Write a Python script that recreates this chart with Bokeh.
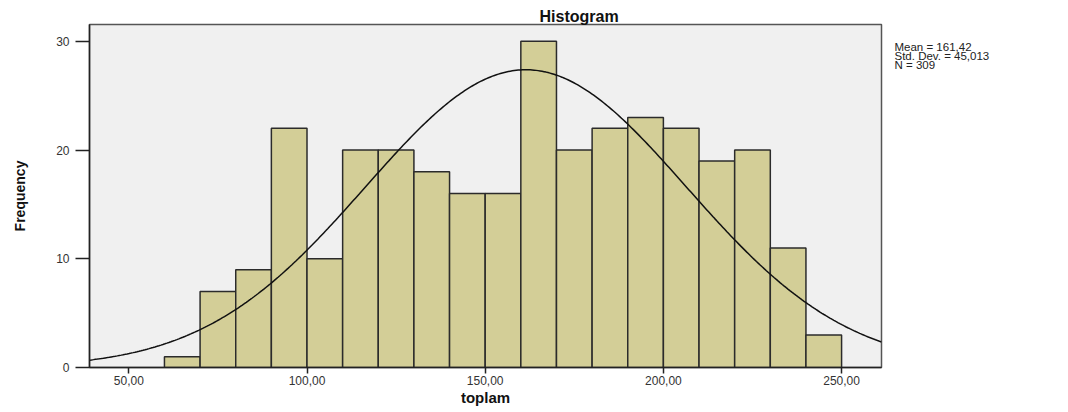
import numpy as np
from bokeh.plotting import figure
from bokeh.layouts import row
from bokeh.models import Range1d, FixedTicker
from bokeh.core.properties import value
from bokeh.embed import file_html
from bokeh.resources import INLINE

# Histogram data (bin edges and frequencies)
bin_edges = [60, 70, 80, 90, 100, 110, 120, 130, 140, 150, 160, 170, 180, 190, 200, 210, 220, 230, 240, 250]
frequencies = [1, 7, 9, 22, 10, 20, 20, 18, 16, 16, 30, 20, 22, 23, 22, 19, 20, 11, 3]

# Summary statistics shown on the chart
mean_val = 161.42
std_val = 45.013
n_val = 309
stats_lines = ["Mean = 161,42", "Std. Dev. = 45,013", "N = 309"]

x_ticks = [50, 100, 150, 200, 250]
x_tick_labels = {50: "50,00", 100: "100,00", 150: "150,00", 200: "200,00", 250: "250,00"}
y_ticks = [0, 10, 20, 30]

MAIN_W = 884
SIDE_W = 176
H = 408
FRAME_H = 343  # pixel height of the plotting frame (top 24 .. bottom 367)

p = figure(width=MAIN_W, height=H, output_backend="svg", toolbar_location=None,
           x_range=Range1d(38.97, 261.2), y_range=Range1d(0, 31.55),
           min_border_left=89, min_border_right=3, min_border_top=24, min_border_bottom=41)

p.border_fill_color = "#ffffff"
p.background_fill_color = "#f0f0f0"
p.outline_line_color = "#555555"
p.outline_line_width = 1.5
p.xgrid.visible = False
p.ygrid.visible = False

p.quad(left=bin_edges[:-1], right=bin_edges[1:], bottom=0, top=frequencies,
       fill_color="#d3ce97", line_color="#2b2b2b", line_width=1.5)

# Fitted normal curve from the displayed mean, std. dev. and N
bw = bin_edges[1] - bin_edges[0]
xs = np.linspace(38.97, 261.2, 400)
ys = n_val * bw / (std_val * np.sqrt(2 * np.pi)) * np.exp(-0.5 * ((xs - mean_val) / std_val) ** 2)
p.line(xs, ys, line_color="#111111", line_width=1.5)

# Axes
p.xaxis.ticker = FixedTicker(ticks=x_ticks)
p.xaxis.major_label_overrides = x_tick_labels
p.yaxis.ticker = FixedTicker(ticks=y_ticks)
for ax in (p.xaxis[0], p.yaxis[0]):
    ax.axis_line_color = "#222222"
    ax.axis_line_width = 1.5
    ax.major_tick_line_color = "#222222"
    ax.major_tick_line_width = 1.5
    ax.minor_tick_line_color = None
    ax.major_tick_in = 0
    ax.major_label_text_font = "Liberation Sans"
    ax.major_label_text_font_size = "12px"
    ax.major_label_text_color = "#333333"
    ax.axis_label_text_font = "Liberation Sans"
    ax.axis_label_text_font_style = "bold"
    ax.axis_label_text_color = "#111111"

p.xaxis.major_tick_out = 6
p.xaxis.major_label_standoff = 2
p.xaxis.axis_label = "toplam"
p.xaxis.axis_label_text_font_size = "15px"
p.xaxis.axis_label_standoff = 1

p.yaxis.major_tick_out = 14
p.yaxis.major_label_standoff = 6
p.yaxis.axis_label = "Frequency"
p.yaxis.axis_label_text_font_size = "14px"
p.yaxis.axis_label_standoff = 25

# Title
p.title.text = "Histogram"
p.title.align = "left"
p.title.offset = 450
p.title.text_font = "Liberation Sans"
p.title.text_font_style = "bold"
p.title.text_font_size = "16px"
p.title.text_color = "#111111"
p.title.standoff = 0

# Side panel with the summary statistics (its frame is aligned with the main frame)
side = figure(width=SIDE_W, height=H, output_backend="svg", toolbar_location=None,
              x_range=Range1d(0, SIDE_W), y_range=Range1d(FRAME_H, 0),
              x_axis_type=None, y_axis_type=None,
              min_border_left=0, min_border_right=0, min_border_top=24, min_border_bottom=41)
side.outline_line_color = None
side.xgrid.visible = False
side.ygrid.visible = False
side.border_fill_color = "#ffffff"
side.background_fill_color = "#ffffff"
side.text(x=[10] * len(stats_lines), y=[22.5 + 9.2 * i for i in range(len(stats_lines))],
          text=stats_lines, text_align="left", text_baseline="middle",
          text_font=value("Liberation Sans"), text_font_size="11.5px", text_color="#222222")

layout = row(p, side, spacing=0)
open("out.html", "w").write(file_html(layout, INLINE))
